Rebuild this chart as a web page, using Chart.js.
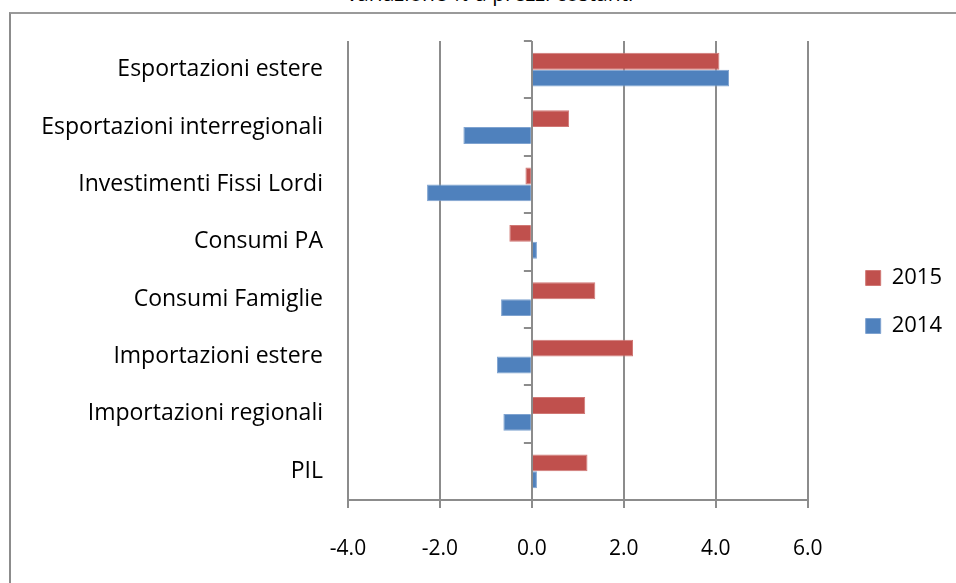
<!DOCTYPE html>
<html>
<head>
<meta charset="utf-8">
<script src="https://cdn.jsdelivr.net/npm/chart.js@4"></script>
<style>
  html, body { margin: 0; padding: 0; background: #fff; overflow: hidden; }
  #wrap { position: relative; width: 956px; height: 583px; }
  #frame { position: absolute; left: 9px; top: 12px; width: 960px; height: 600px;
           border-left: 2px solid #8c8c8c; border-top: 2px solid #9a9a9a; }
  #titolo { position: absolute; left: 0; top: -21px; width: 980px; text-align: center;
            font: 21px "Open Sans", sans-serif; color: #000; }
  canvas { position: absolute; left: 0; top: 0; }
</style>
</head>
<body>
<div id="wrap">
  <div id="titolo">variazione % a prezzi costanti</div>
  <div id="frame"></div>
  <canvas id="grafico" width="956" height="583"></canvas>
</div>
<script>
// voci del grafico
const categorie = ['Esportazioni estere', 'Esportazioni interregionali', 'Investimenti Fissi Lordi',
  'Consumi PA', 'Consumi Famiglie', 'Importazioni estere', 'Importazioni regionali', 'PIL'];
const valori2015 = [4.08, 0.81, -0.14, -0.49, 1.38, 2.20, 1.16, 1.21];
const valori2014 = [4.29, -1.49, -2.28, 0.11, -0.67, -0.76, -0.62, 0.11];
const asseX = { min: -4, max: 6, passo: 2 };

const grigio = '#8c8c8c';

// tacche sull'asse delle categorie (passa per lo zero)
const tacche = {
  id: 'tacche',
  afterDatasetsDraw(chart) {
    const { ctx, scales: { x, y } } = chart;
    const x0 = x.getPixelForValue(0);
    ctx.save();
    ctx.strokeStyle = grigio;
    ctx.lineWidth = 2;
    for (let i = 0; i <= categorie.length; i++) {
      const py = Math.round(y.getPixelForValue(i - 0.5));
      ctx.beginPath();
      ctx.moveTo(x0 - 8, py);
      ctx.lineTo(x0, py);
      ctx.stroke();
    }
    ctx.restore();
  }
};

// sposta la legenda come nell'originale
const spostaLegenda = {
  id: 'spostaLegenda',
  afterLayout(chart) {
    const lg = chart.legend;
    const dx = chart.chartArea.right + 32 - lg.left;
    lg.left += dx; lg.right += dx;
    lg.top -= 10; lg.bottom -= 10;
  }
};

const ctx = document.getElementById('grafico').getContext('2d');
const grafico = new Chart(ctx, {
  type: 'bar',
  data: {
    labels: categorie,
    datasets: [
      { label: '2015', data: valori2015, backgroundColor: '#C0504D', borderColor: '#D07875', borderWidth: 1 },
      { label: '2014', data: valori2014, backgroundColor: '#4F81BD', borderColor: '#7FA3D0', borderWidth: 1 }
    ]
  },
  options: {
    indexAxis: 'y',
    responsive: false,
    animation: false,
    categoryPercentage: 0.59,
    barPercentage: 1.0,
    layout: { padding: { top: 41, right: 36, bottom: 0, left: 0 } },
    plugins: {
      legend: {
        position: 'right',
        labels: {
          boxWidth: 15, boxHeight: 15, padding: 26, color: '#000',
          font: { family: '"Open Sans", sans-serif', size: 22 }
        }
      },
      tooltip: { enabled: false }
    },
    scales: {
      x: {
        min: asseX.min, max: asseX.max,
        ticks: {
          stepSize: asseX.passo, color: '#000', padding: 28,
          font: { family: '"Open Sans", sans-serif', size: 21 },
          callback: v => v.toFixed(1)
        },
        grid: { color: grigio, lineWidth: 2, tickLength: 8 },
        border: { color: grigio, width: 2 },
        afterFit(s) { s.height = 83; }
      },
      y: {
        ticks: {
          color: '#000', padding: 25,
          font: { family: '"Open Sans", sans-serif', size: 23 }
        },
        grid: { display: false, drawTicks: false },
        border: { display: false },
        afterFit(s) { s.width = 348; }
      }
    }
  },
  plugins: [tacche, spostaLegenda]
});
</script>
</body>
</html>
